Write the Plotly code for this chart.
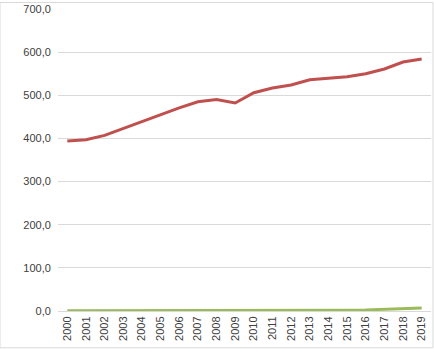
import plotly.graph_objects as go

years = [str(y) for y in range(2000, 2020)]
series_red = [394, 397, 407, 423, 440, 456, 471, 485, 490, 482,
              506, 517, 524, 536, 540, 543, 550, 561, 577, 584]
series_green = [0.5, 0.5, 0.5, 0.5, 0.5, 0.5, 0.5, 0.5, 0.5, 0.5,
                0.5, 0.5, 0.5, 0.8, 1.5, 2.0, 2.5, 4.0, 5.0, 7.0]

fig = go.Figure()
fig.add_trace(go.Scatter(x=years, y=series_green, mode="lines",
                         line=dict(color="#9BBB59", width=3)))
fig.add_trace(go.Scatter(x=years, y=series_red, mode="lines",
                         line=dict(color="#C0504D", width=3)))

fig.update_layout(
    width=434, height=349,
    margin=dict(l=58, r=3, t=7, b=38),
    paper_bgcolor="white", plot_bgcolor="white",
    showlegend=False,
    separators=", ",
    font=dict(family="Liberation Sans, Arial", size=11, color="#595959"),
    xaxis=dict(type="category", tickangle=-90, showgrid=False,
               range=[-0.5, len(years) - 0.5],
               showline=True, linecolor="#D9D9D9", ticks="",
               tickfont=dict(size=11, color="#404040")),
    yaxis=dict(range=[0, 700], dtick=100, tickformat=".1f",
               showgrid=True, gridcolor="#D9D9D9", zeroline=False,
               showline=False, ticks="", ticklen=0,
               ticksuffix="  ",
               tickfont=dict(size=11, color="#404040")),
    shapes=[dict(type="rect", xref="paper", yref="paper",
                 x0=-58/373, x1=1+2/373, y0=-37/304, y1=1+6.5/304,
                 line=dict(color="#D9D9D9", width=1))],
)

fig.write_html("out.html")
